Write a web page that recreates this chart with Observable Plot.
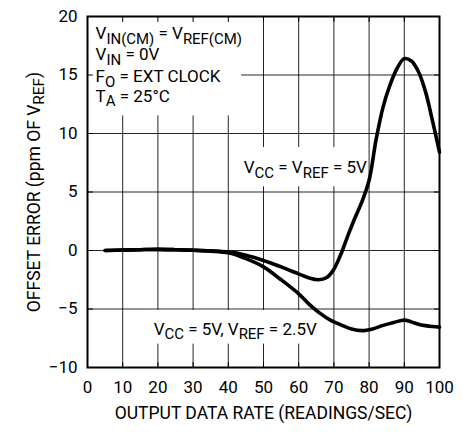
<!DOCTYPE html>
<html>
<head>
<meta charset="utf-8">
<script src="https://cdn.jsdelivr.net/npm/d3@7"></script>
<script src="https://cdn.jsdelivr.net/npm/@observablehq/plot@0.6"></script>
<style>
  html, body { margin: 0; padding: 0; background: #fff; }
  #chart svg { display: block; }
</style>
</head>
<body>
<div id="chart"></div>
<script>
// ---- data ----
const xTicks = [0, 10, 20, 30, 40, 50, 60, 70, 80, 90, 100];
const yTicks = [-10, -5, 0, 5, 10, 15, 20];

const rateA = [5, 10, 15, 20, 25, 30, 35, 40, 45, 50, 55, 60, 63, 65.5, 68, 70, 72, 74, 76, 78, 80, 82, 84, 86, 88, 90, 92, 94, 96, 98, 100];
const errA  = [0, 0.03, 0.07, 0.1, 0.07, 0.02, -0.03, -0.12, -0.4, -0.85, -1.4, -2.0, -2.35, -2.5, -2.3, -1.6, -0.3, 1.3, 2.8, 4.2, 6.0, 9.5, 12.3, 14.2, 15.6, 16.4, 16.2, 15.3, 13.6, 11.1, 8.4];

const rateB = [5, 10, 15, 20, 25, 30, 35, 40, 45, 50, 55, 60, 63, 66, 69, 72, 75, 78, 81, 84, 87, 90, 92, 94, 96, 98, 100];
const errB  = [0, 0.03, 0.07, 0.1, 0.07, 0.02, -0.05, -0.2, -0.7, -1.4, -2.5, -3.7, -4.6, -5.35, -5.95, -6.35, -6.7, -6.85, -6.7, -6.4, -6.15, -5.95, -6.1, -6.3, -6.42, -6.5, -6.55];

const seriesA = rateA.map((x, i) => ({x, y: errA[i]}));
const seriesB = rateB.map((x, i) => ({x, y: errB[i]}));

const noteLines = ["V_{IN(CM)} = V_{REF(CM)}", "V_{IN} = 0V", "F_{O} = EXT CLOCK", "T_{A} = 25°C"];
const curveLabels = ["V_{CC} = V_{REF} = 5V", "V_{CC} = 5V, V_{REF} = 2.5V"];

const xLabel = "OUTPUT DATA RATE (READINGS/SEC)";
const yLabel = "OFFSET ERROR (ppm OF V_{REF})";

// ---- annotation placement (data units) ----
const noteX = 2.3, noteY = [18.05, 16.25, 14.4, 12.7];
const notes = noteLines.map((t, i) => ({x: noteX, y: noteY[i], t}));
const labels = [
  {x: 44.4, y: 6.6, t: curveLabels[0]},
  {x: 18.8, y: -7.2, t: curveLabels[1]}
];
const masks = [
  {x1: 0, x2: 43.8, y1: 11.5, y2: 20},
  {x1: 43.3, x2: 79, y1: 5.45, y2: 8.8},
  {x1: 17.3, x2: 66.2, y1: -8.0, y2: -5.12}
];

const FONT = "Roboto, 'Liberation Sans', sans-serif";
const tickShape = {draw(context, l) { context.moveTo(0, 0); context.lineTo(0, -l); }};

const chart = Plot.plot({
  width: 471,
  height: 438,
  marginLeft: 87,
  marginRight: 32,
  marginTop: 16,
  marginBottom: 71,
  style: {fontFamily: FONT, fontSize: "17px", color: "#000", background: "#fff"},
  x: {domain: [0, 100]},
  y: {domain: [-10, 20]},
  marks: [
    Plot.gridX(xTicks, {stroke: "#000", strokeOpacity: 0.85, strokeWidth: 1}),
    Plot.gridY(yTicks, {stroke: "#000", strokeOpacity: 0.85, strokeWidth: 1}),
    Plot.rect(masks, {x1: "x1", x2: "x2", y1: "y1", y2: "y2", fill: "#fff"}),
    Plot.vector(xTicks, {x: d => d, frameAnchor: "top", length: 5, rotate: 180, anchor: "start", shape: tickShape, stroke: "#000", strokeWidth: 1}),
    Plot.vector(xTicks, {x: d => d, frameAnchor: "bottom", length: 5, rotate: 0, anchor: "start", shape: tickShape, stroke: "#000", strokeWidth: 1}),
    Plot.vector(yTicks, {y: d => d, frameAnchor: "left", length: 5, rotate: 90, anchor: "start", shape: tickShape, stroke: "#000", strokeWidth: 1}),
    Plot.vector(yTicks, {y: d => d, frameAnchor: "right", length: 5, rotate: 270, anchor: "start", shape: tickShape, stroke: "#000", strokeWidth: 1}),
    Plot.axisX({anchor: "bottom", ticks: xTicks, tickSize: 0, tickPadding: 13, label: null, fontSize: 17}),
    Plot.axisY({anchor: "left", ticks: yTicks, tickSize: 0, tickPadding: 10, label: null, fontSize: 17}),
    Plot.frame({stroke: "#000", strokeWidth: 2}),
    Plot.line(seriesA, {x: "x", y: "y", stroke: "#000", strokeWidth: 3.6, curve: "catmull-rom"}),
    Plot.line(seriesB, {x: "x", y: "y", stroke: "#000", strokeWidth: 3.6, curve: "catmull-rom"}),
    Plot.text(notes, {x: "x", y: "y", text: "t", textAnchor: "start", lineAnchor: "bottom", fontSize: 17, fill: "#000"}),
    Plot.text(labels, {x: "x", y: "y", text: "t", textAnchor: "start", lineAnchor: "bottom", fontSize: 17, fill: "#000"}),
    Plot.text([xLabel], {frameAnchor: "bottom", textAnchor: "middle", dy: 51, lineAnchor: "bottom", fontSize: 17.5, fill: "#000"}),
    Plot.text([yLabel], {frameAnchor: "left", textAnchor: "middle", dx: -48, rotate: -90, lineAnchor: "bottom", fontSize: 17.5, fill: "#000"})
  ]
});

// subscripts
d3.select(chart).selectAll("text").each(function () {
  const t = this.textContent;
  if (!t.includes("_{")) return;
  const el = d3.select(this);
  el.text(null);
  const parts = t.split(/(_\{[^}]*\})/).filter(p => p);
  let down = false;
  const shift = 4.5;
  parts.forEach(p => {
    if (p.startsWith("_{")) {
      el.append("tspan").attr("font-size", "88%").attr("dy", down ? 0 : shift).text(p.slice(2, -1));
      down = true;
    } else {
      el.append("tspan").attr("dy", down ? -shift : 0).text(p);
      down = false;
    }
  });
});

document.getElementById("chart").appendChild(chart);
</script>
</body>
</html>
